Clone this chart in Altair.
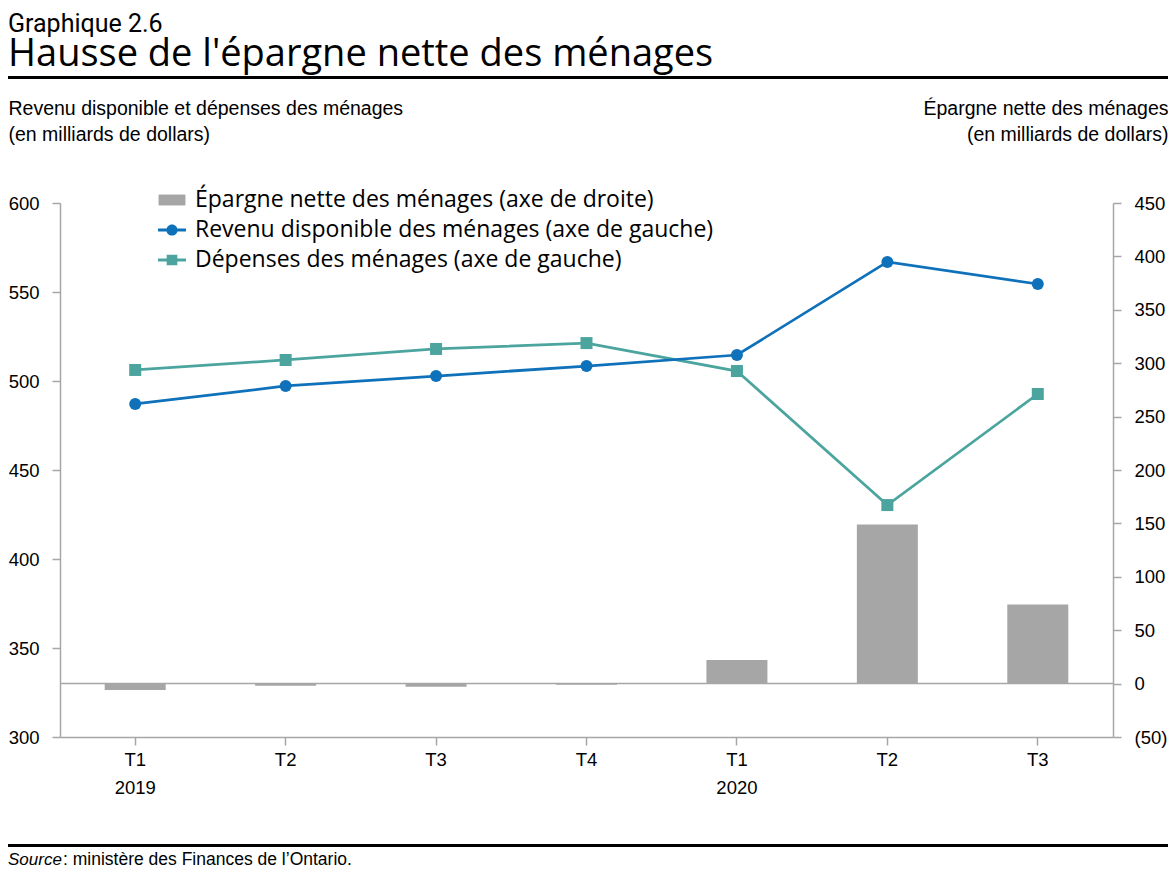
import altair as alt
import pandas as pd

# ---- data ----
periods = ["T1 2019", "T2 2019", "T3 2019", "T4 2019", "T1 2020", "T2 2020", "T3 2020"]
revenu = [487.1, 497.2, 502.8, 508.4, 514.6, 566.9, 554.5]
depenses = [506.2, 511.8, 518.0, 521.3, 505.6, 430.3, 492.7]
epargne = [-6, -2, -3, -1, 22, 149, 74]

series_names = [
    "Épargne nette des ménages (axe de droite)",
    "Revenu disponible des ménages (axe de gauche)",
    "Dépenses des ménages (axe de gauche)",
]
series_colors = ["#A6A6A6", "#0F71BA", "#4BA59E"]
legend_shapes = [
    "M-0.96,-0.39L0.96,-0.39L0.96,0.39L-0.96,0.39Z",
    "M-1,-0.1L1,-0.1L1,0.1L-1,0.1Z M0.4,0A0.4,0.4,0,1,1,-0.4,0A0.4,0.4,0,1,1,0.4,0Z",
    "M-1,-0.1L1,-0.1L1,0.1L-1,0.1Z M-0.38,-0.38L0.38,-0.38L0.38,0.38L-0.38,0.38Z",
]
left_ticks = [300, 350, 400, 450, 500, 550, 600]
right_ticks = [-50, 0, 50, 100, 150, 200, 250, 300, 350, 400, 450]

title_small = "Graphique 2.6"
title_main = "Hausse de l'épargne nette des ménages"
left_title = ["Revenu disponible et dépenses des ménages", "(en milliards de dollars)"]
right_title = ["Épargne nette des ménages", "(en milliards de dollars)"]
source_italic = "Source"
source_rest = ": ministère des Finances de l’Ontario."

AXIS_GRAY = "#A6A6A6"
TITLE_FONT = "Open Sans"
AXIS_FONT = "Liberation Sans"

sav_df = pd.DataFrame({"period": periods, "epargne": epargne})
rev_df = pd.DataFrame({"period": periods, "value": revenu})
dep_df = pd.DataFrame({"period": periods, "value": depenses})

x_enc = alt.X(
    "period:N",
    sort=periods,
    scale=alt.Scale(type="band", domain=periods, paddingInner=0, paddingOuter=0),
    axis=alt.Axis(
        title=None,
        labelAngle=0,
        labelExpr="split(datum.label, ' ')[0] == 'T1' ? split(datum.label, ' ') : split(datum.label, ' ')[0]",
        labelBaseline="top",
        labelLineHeight=28,
        labelPadding=5,
        tickSize=8,
    ),
)

bars = alt.Chart(sav_df).mark_bar(size=61, color=series_colors[0]).encode(
    x=x_enc,
    y=alt.Y(
        "epargne:Q",
        scale=alt.Scale(domain=[-50, 450], nice=False),
        axis=alt.Axis(
            orient="right",
            values=right_ticks,
            labelExpr="datum.value < 0 ? '(' + (-datum.value) + ')' : datum.label",
            labelPadding=13,
            tickSize=8,
            title=right_title,
            titleAngle=0,
            titleAlign="right",
            titleBaseline="alphabetic",
            titleX=55,
            titleY=-89,
            titleLineHeight=26,
        ),
    ),
)

zero_rule = alt.Chart(alt.Data(values=[{}])).mark_rule(
    color=AXIS_GRAY, strokeWidth=1.5
).encode(y=alt.datum(0))

right_layer = alt.layer(bars, zero_rule)

y_left = alt.Y(
    "value:Q",
    scale=alt.Scale(domain=[300, 600], nice=False, zero=False),
    axis=alt.Axis(
        orient="left",
        values=left_ticks,
        labelPadding=13,
        tickSize=8,
        title=left_title,
        titleAngle=0,
        titleAlign="left",
        titleBaseline="alphabetic",
        titleX=-52,
        titleY=-89,
        titleLineHeight=26,
    ),
)

line_dep = alt.Chart(dep_df).mark_line(strokeWidth=2.75, color=series_colors[2]).encode(x=x_enc, y=y_left)
line_rev = alt.Chart(rev_df).mark_line(strokeWidth=2.75, color=series_colors[1]).encode(x=x_enc, y=y_left)
pts_dep = alt.Chart(dep_df).mark_point(
    shape="square", filled=True, size=144, opacity=1, color=series_colors[2]
).encode(x=x_enc, y=y_left)
pts_rev = alt.Chart(rev_df).mark_point(
    shape="circle", filled=True, size=144, opacity=1, color=series_colors[1]
).encode(x=x_enc, y=y_left)
left_layer = alt.layer(line_dep, pts_dep, line_rev, pts_rev)

leg = alt.Legend(
    orient="none", legendX=98, legendY=-17, title=None, direction="vertical",
    symbolSize=784, symbolStrokeWidth=0, symbolOpacity=1,
    labelFont=TITLE_FONT, labelFontSize=23, labelColor="black",
    labelOffset=9, rowPadding=4, labelLimit=900,
)
legend_layer = alt.Chart(alt.Data(values=[])).mark_point(filled=True, opacity=1).encode(
    color=alt.Color("series:N", scale=alt.Scale(domain=series_names, range=series_colors), legend=leg),
    shape=alt.Shape("series:N", scale=alt.Scale(domain=series_names, range=legend_shapes), legend=leg),
)


def text_layer(text, x, y, size, font, style="normal", align="left", weight="normal"):
    return alt.Chart(alt.Data(values=[{}])).mark_text(
        fontSize=size, font=font, fontStyle=style, align=align, fontWeight=weight,
        baseline="alphabetic", color="black",
    ).encode(x=alt.value(x), y=alt.value(y), text=alt.value(text))


def hrule(y):
    return alt.Chart(alt.Data(values=[{}])).mark_rule(color="black", strokeWidth=3).encode(
        x=alt.value(-52), x2=alt.value(1108), y=alt.value(y)
    )


decor = [
    text_layer(title_small, -52, -171, 25, "Roboto"),
    text_layer(title_main, -52, -137, 38, TITLE_FONT, weight=500),
    hrule(-125.5),
    hrule(642.5),
    text_layer(source_italic, -52, 662, 17, AXIS_FONT, style="italic"),
    text_layer(source_rest, 3, 662, 17.5, AXIS_FONT),
]

chart = alt.layer(right_layer, left_layer, legend_layer, *decor).resolve_scale(
    y="independent"
).properties(
    width=1053,
    height=534,
    autosize=alt.AutoSizeParams(type="none"),
    padding={"left": 52, "top": 195, "right": 55, "bottom": 143},
).configure_view(stroke=None).configure_axis(
    domainColor=AXIS_GRAY, tickColor=AXIS_GRAY, domainWidth=1.5, tickWidth=1.5,
    labelColor="black", labelFont=AXIS_FONT, labelFontSize=18.5,
    titleFont=AXIS_FONT, titleFontSize=19.5, titleColor="black", titleFontWeight="normal",
    grid=False,
)

chart.save("out.html", embed_options={"renderer": "svg", "actions": False})
